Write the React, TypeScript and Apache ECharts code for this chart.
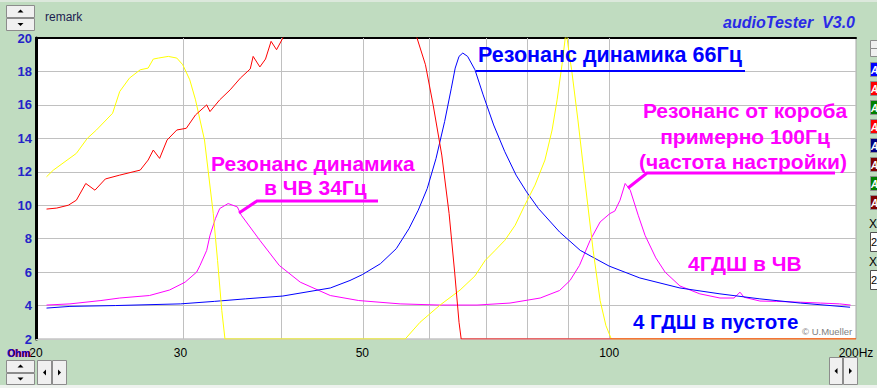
import React, { useEffect, useRef } from "react";
import * as echarts from "echarts";

// ---- axis ranges / ticks ----
const FREQ_MIN = 20;
const FREQ_MAX = 200;
const OHM_MIN = 2;
const OHM_MAX = 20;
const OHM_STEP = 2;
const xLabelFreqs = [20, 30, 50, 100, 200];
const xGridFreqs = [30, 40, 50, 60, 70, 80, 90, 100];

// ---- series: 4ГДШ in free air (blue) ----
const freeAirFreq = [20.6, 22, 25, 30, 33, 36, 40, 45.7, 48.3, 50, 52.6, 55, 57, 58.5, 60, 61.5, 63, 64.2, 64.9, 65.6, 66.3, 67.2, 68.6, 70.2, 72.3, 74.6, 77, 79.3, 82, 87, 92.2, 100, 109, 122, 136.5, 152.7, 171, 196.7];
const freeAirOhm = [3.85, 3.95, 4.0, 4.1, 4.25, 4.4, 4.57, 5.05, 5.5, 5.85, 6.5, 7.4, 8.6, 9.7, 11.0, 12.8, 15.0, 17.0, 18.2, 18.9, 19.1, 18.9, 18.1, 16.6, 14.8, 13.2, 11.8, 10.8, 9.8, 8.4, 7.3, 6.36, 5.65, 5.05, 4.7, 4.4, 4.15, 3.9];

// ---- series: 4ГДШ in box (magenta) ----
const boxFreq = [20.6, 22, 24, 25.3, 27.5, 29.1, 30.4, 31.4, 31.7, 32.3, 32.6, 33.1, 33.5, 34.3, 35.2, 35.6, 37.5, 39.6, 42, 45.7, 49.5, 55.6, 62.2, 69, 75.7, 82.4, 87, 89.6, 92, 94.8, 97.5, 100.2, 101.6, 103.1, 104.6, 106.1, 108.5, 110.6, 114, 117, 122, 129, 136.5, 142, 144.4, 146, 152.7, 160, 171, 181, 191, 197];
const boxOhm = [4.03, 4.1, 4.3, 4.45, 4.6, 4.93, 5.4, 6.0, 6.4, 7.3, 8.2, 9.2, 9.8, 10.1, 9.9, 9.4, 7.9, 6.4, 5.4, 4.6, 4.3, 4.1, 4.03, 4.03, 4.15, 4.45, 4.9, 5.5, 6.4, 7.9, 9.0, 9.5, 9.65, 10.3, 11.3, 10.9, 9.4, 8.2, 6.85, 6.0, 5.17, 4.7, 4.45, 4.45, 4.8, 4.5, 4.27, 4.25, 4.2, 4.15, 4.1, 4.03];

// ---- series: red curve ----
const redFreq = [20.6, 21.2, 21.9, 22.4, 23.0, 23.6, 24.3, 25.3, 26.8, 27.4, 27.8, 28.3, 28.9, 29.7, 30.5, 31.3, 32.3, 32.6, 33.5, 34.5, 35.5, 36.5, 36.8, 37.5, 38.1, 38.7, 39.3, 40, 42, 56, 58.3, 59.7, 61, 62.5, 63.8, 64.8, 65.6, 66, 100, 200];
const redOhm = [9.77, 9.83, 10.0, 10.3, 11.3, 10.9, 11.57, 11.8, 12.1, 12.7, 13.3, 12.8, 13.9, 14.5, 14.6, 15.4, 16.0, 15.6, 16.3, 16.9, 17.6, 18.15, 18.9, 18.27, 18.74, 19.8, 19.3, 20.0, 23, 23, 20.0, 18.4, 16.0, 13.0, 9.5, 6.0, 3.0, 2.0, 2.0, 2.0];

// ---- series: yellow curve ----
const yelFreq = [20.6, 21.0, 22.4, 23.1, 23.7, 24.8, 25.3, 26.0, 26.8, 27.4, 27.8, 28.2, 29.0, 29.7, 30.2, 30.8, 31.3, 32.1, 32.9, 33.3, 33.7, 34.0, 56.4, 58.8, 62.2, 65.8, 68.6, 70.6, 72.6, 74.6, 76.8, 78.9, 81.2, 83.5, 85.2, 86.4, 87.6, 88.4, 88.6, 88.9, 89.6, 90.0, 91.6, 93.4, 95.6, 97.5, 99.1, 100.6, 200];
const yelOhm = [11.7, 12.1, 13.1, 14.0, 14.5, 15.5, 16.8, 17.6, 18.1, 18.2, 18.74, 18.8, 18.9, 18.8, 18.4, 17.5, 16.3, 13.9, 9.5, 6.7, 3.7, 2.0, 2.0, 3.0, 4.03, 4.93, 5.77, 6.7, 7.3, 7.9, 8.8, 10.0, 11.2, 12.7, 14.5, 16.3, 18.4, 20.0, 20.6, 19.9, 18.7, 18.1, 15.1, 11.5, 7.3, 4.3, 2.8, 2.0, 2.0];

const FONT = '"Liberation Sans", Arial, sans-serif';
const BG = "#c0dcc0";

const lg = (f: number) => Math.log10(f);
const pts = (fs: number[], vs: number[]) => fs.map((f, i) => [lg(f), vs[i]]);

function txt(text: string, x: number, y: number, font: string, fill: string, align = "left", extra: any = {}) {
  return {
    type: "text",
    x,
    y,
    z: 100,
    silent: true,
    style: { text, font, fill, align, verticalAlign: "middle", textAlign: align, textVerticalAlign: "middle" },
    ...extra,
  };
}
function rect(x: number, y: number, w: number, h: number, fill: string, stroke = "#8c8c8c") {
  return { type: "rect", z: 50, silent: true, shape: { x: x + 0.5, y: y + 0.5, width: w - 1, height: h - 1 }, style: { fill, stroke, lineWidth: 1 } };
}
function tri(cx: number, cy: number, dir: string) {
  let p: number[][];
  if (dir === "up") p = [[cx - 3, cy + 1.5], [cx + 3, cy + 1.5], [cx, cy - 1.5]];
  else if (dir === "down") p = [[cx - 3, cy - 1.5], [cx + 3, cy - 1.5], [cx, cy + 1.5]];
  else if (dir === "left") p = [[cx + 1.5, cy - 3], [cx + 1.5, cy + 3], [cx - 1.5, cy]];
  else p = [[cx - 1.5, cy - 3], [cx - 1.5, cy + 3], [cx + 1.5, cy]];
  return { type: "polygon", z: 51, silent: true, shape: { points: p }, style: { fill: "#000" } };
}
function pline(points: number[][], color: string, width: number) {
  return { type: "polyline", z: 99, silent: true, shape: { points }, style: { stroke: color, lineWidth: width, fill: null } };
}

const squareColors = ["#0000ff", "#ff0000", "#008000", "#ff0000", "#000080", "#800000", "#008000", "#800000"];

export default function App() {
  const ref = useRef<HTMLDivElement>(null);
  useEffect(() => {
    if (!ref.current) return;
    const chart = echarts.init(ref.current, undefined, { renderer: "svg" });
    const curve = (data: number[][], color: string, extra: any = {}) => ({
      type: "line",
      data,
      symbol: "none",
      showSymbol: false,
      silent: true,
      clip: true,
      z: 10,
      lineStyle: { color, width: 1 },
      animation: false,
      ...extra,
    });

    const graphics: any[] = [
      { type: "rect", z: 40, silent: true, shape: { x: 0, y: 0, width: 877, height: 2 }, style: { fill: "#dce8dc" } },
      { type: "rect", z: 40, silent: true, shape: { x: 0, y: 385, width: 877, height: 3 }, style: { fill: "#eef2ee" } },
      // top-left spin
      rect(6, 5, 29, 13, "#f0f0f0"), tri(20.5, 11, "up"),
      rect(6, 18, 29, 13, "#f0f0f0"), tri(20.5, 24.5, "down"),
      txt("remark", 45, 17, `12px ${FONT}`, "#1c1c50"),
      txt("audioTester  V3.0", 855, 22, `italic bold 16px ${FONT}`, "#2a2ae6", "right"),
      // bottom-left controls
      rect(6, 360, 29, 13, "#f0f0f0"), tri(20.5, 366, "up"),
      rect(6, 373, 29, 12, "#f0f0f0"), tri(20.5, 379, "down"),
      rect(37, 360, 15, 25, "#f0f0f0"), tri(44.5, 372.5, "left"),
      rect(52, 360, 15, 25, "#f0f0f0"), tri(59.5, 372.5, "right"),
      // bottom-right controls
      rect(829, 357, 14, 28, "#f0f0f0"), tri(836, 371, "left"),
      rect(843, 357, 15, 28, "#f0f0f0"), tri(850.5, 371, "right"),
      // right panel
      rect(870, 40, 12, 9, "#f0f0f0"),
      rect(870, 48, 12, 9, "#f0f0f0"),
      txt("X", 869, 224, `12px ${FONT}`, "#000"),
      rect(870, 232, 12, 20, "#ffffff", "#505050"),
      txt("2", 871, 242, `11px ${FONT}`, "#000"),
      txt("X", 869, 262, `12px ${FONT}`, "#000"),
      rect(870, 270, 12, 20, "#ffffff", "#505050"),
      txt("2", 871, 280, `11px ${FONT}`, "#000"),
      // Ohm label
      txt("Ohm", 8, 353, `bold 10px ${FONT}`, "#e00000"),
      txt("Ohm", 7, 353, `bold 10px ${FONT}`, "#1010d0"),
      // annotations
      txt("Резонанс динамика 66Гц", 478, 55, `bold 21.5px ${FONT}`, "#0000ff"),
      pline([[476, 71], [745, 71]], "#0000ff", 2),
      txt("Резонанс динамика", 211, 163, `bold 21px ${FONT}`, "#ff00ff"),
      txt("в ЧВ 34Гц", 264, 187, `bold 21px ${FONT}`, "#ff00ff"),
      pline([[239, 213], [257, 201], [378, 201]], "#ff00ff", 3),
      txt("Резонанс от короба", 745, 110, `bold 21px ${FONT}`, "#ff00ff", "center"),
      txt("примерно 100Гц", 745, 136, `bold 21px ${FONT}`, "#ff00ff", "center"),
      txt("(частота настройки)", 743, 161, `bold 21px ${FONT}`, "#ff00ff", "center"),
      pline([[628, 188], [647, 173], [835, 173]], "#ff00ff", 3),
      txt("4ГДШ в ЧВ", 688, 263, `bold 21px ${FONT}`, "#ff00ff"),
      txt("4 ГДШ в пустоте", 633, 321, `bold 20.5px ${FONT}`, "#0000ff"),
      txt("© U.Mueller", 802, 331, `9.5px ${FONT}`, "#808080"),
    ];
    squareColors.forEach((c, i) => {
      const y = 62 + 19 * i;
      graphics.push(rect(870, y, 12, 15, c, "#909090"));
      graphics.push(txt("A", 871, y + 8, `italic bold 10px ${FONT}`, "#ffffff"));
    });

    chart.setOption({
      animation: false,
      backgroundColor: BG,
      grid: { left: 36, top: 38, width: 820, height: 301, show: true, backgroundColor: "#ffffff", borderColor: "#a8a8a8", borderWidth: 1 },
      xAxis: [
        {
          type: "value",
          min: lg(FREQ_MIN),
          max: lg(FREQ_MAX),
          axisLine: { show: true, onZero: false, lineStyle: { color: "#c8c8c8", width: 1 } },
          axisTick: { show: false },
          splitLine: { show: false },
          axisLabel: {
            customValues: xLabelFreqs.map(lg),
            formatter: (v: number) => {
              const f = Math.round(Math.pow(10, v));
              return f === FREQ_MAX ? `${f}Hz` : String(f);
            },
            color: "#000",
            fontSize: 12,
            fontFamily: FONT,
            margin: 8,
          },
        },
        {
          type: "value",
          position: "top",
          min: lg(FREQ_MIN),
          max: lg(FREQ_MAX),
          axisLine: { show: true, onZero: false, lineStyle: { color: "#000", width: 2 } },
          axisTick: { show: false },
          axisLabel: { show: false },
          splitLine: { show: false },
        },
      ],
      yAxis: {
        type: "value",
        min: OHM_MIN,
        max: OHM_MAX,
        interval: OHM_STEP,
        axisLine: { show: true, onZero: false, lineStyle: { color: "#000", width: 3 } },
        axisTick: { show: false },
        splitLine: { show: true, lineStyle: { color: "#c0c0c0", width: 1 } },
        axisLabel: { color: "#2424c8", fontWeight: "bold", fontSize: 13, fontFamily: FONT, margin: 4 },
      },
      series: [
        curve(pts(boxFreq, boxOhm), "#ff00ff", {
          markLine: {
            silent: true,
            symbol: ["none", "none"],
            z: 5,
            label: { show: false },
            lineStyle: { color: "#c0c0c0", width: 1, type: "solid" },
            emphasis: { disabled: true },
            animation: false,
            data: xGridFreqs.map((f) => ({ xAxis: lg(f) })),
          },
        }),
        curve(pts(freeAirFreq, freeAirOhm), "#0000ff"),
        curve(pts(yelFreq, yelOhm), "#ffff00"),
        curve(pts(redFreq, redOhm), "#ff0000"),
      ],
      graphic: { elements: graphics },
    });
    return () => chart.dispose();
  }, []);
  return <div ref={ref} style={{ position: "fixed", left: 0, top: 0, width: 877, height: 388 }} />;
}
